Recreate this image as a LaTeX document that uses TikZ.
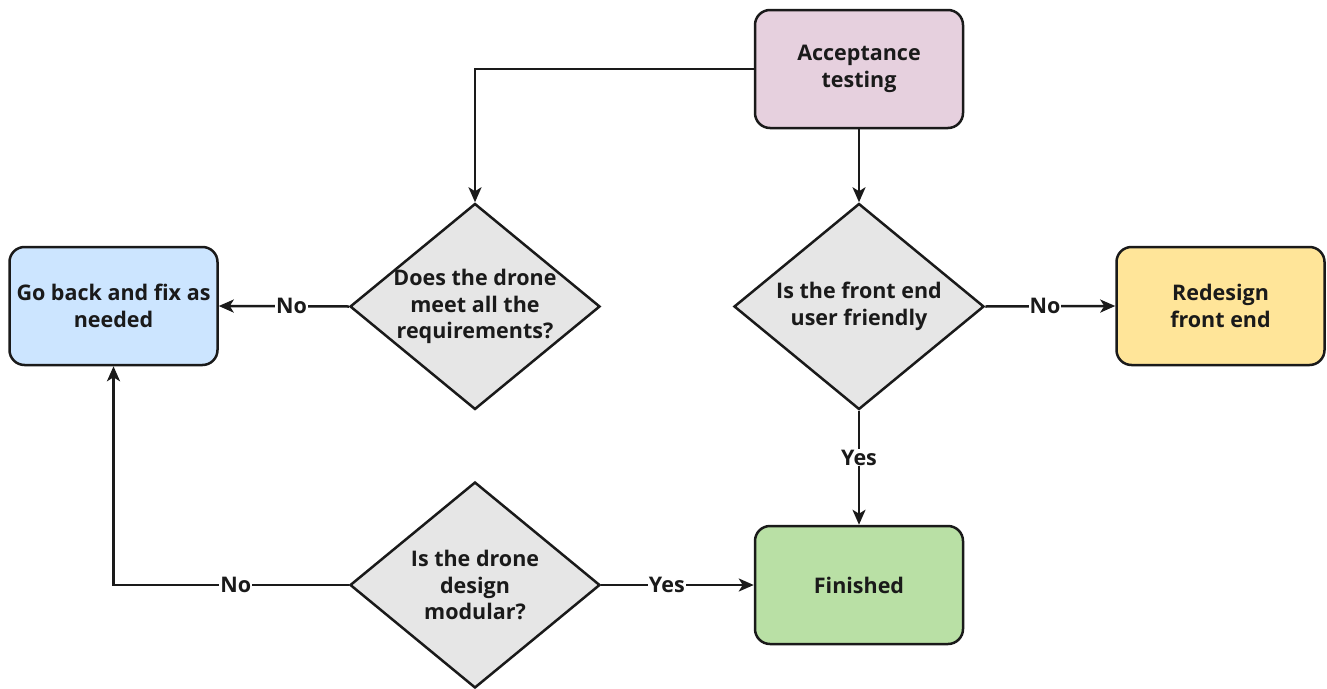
\documentclass[tikz,border=0pt]{standalone}
\usepackage{fontspec}
\setmainfont{Open Sans}
\usetikzlibrary{shapes.geometric,arrows.meta}
\definecolor{accfill}{HTML}{E6D0DE}
\definecolor{fixfill}{HTML}{CCE5FF}
\definecolor{redofill}{HTML}{FFE599}
\definecolor{donefill}{HTML}{B9E0A5}
\definecolor{askfill}{HTML}{E6E6E6}
\definecolor{ink}{HTML}{1A1A1A}
\begin{document}
\begin{tikzpicture}[x=1pt,y=-1pt,
  every node/.style={text=ink,font=\bfseries\fontsize{21.5}{26.5}\selectfont},
  stepbox/.style={draw=ink,line width=2.5pt,rounded corners=15pt,
    minimum width=208pt,minimum height=118pt,inner sep=0pt,align=center},
  decision/.style={draw=ink,line width=2.5pt,diamond,fill=askfill,
    minimum width=250pt,minimum height=206pt,inner sep=0pt},
  asktext/.style={align=center,inner sep=0pt},
  link/.style={draw=ink,line width=2.5pt,-{Stealth[length=15pt,width=13pt,inset=4pt]}},
  lbl/.style={fill=white,inner sep=1pt}
]
\useasboundingbox[fill=white] (0,0) rectangle (1327,688);

% process steps
\node[stepbox,fill=accfill]  (acc)    at (859,69)    {Acceptance\\testing};
\node[stepbox,fill=fixfill]  (goback) at (113.5,306) {Go back and fix as\\needed};
\node[stepbox,fill=redofill] (redo)   at (1220.5,306){Redesign\\front end};
\node[stepbox,fill=donefill] (done)   at (859,585)   {Finished};

% decisions (text set as a centred label so it never widens the diamond)
\node[decision,label={[asktext]center:Does the drone\\meet all the\\requirements?}] (req) at (475,306.5) {};
\node[decision,label={[asktext]center:Is the front end\\user friendly}] (ui) at (859,306.5) {};
\node[decision,label={[asktext]center:Is the drone\\design\\modular?}] (module) at (475,585) {};

% connectors
\draw[link] (acc.west) -| (req.north);
\draw[link] (acc.south) -- (ui.north);
\draw[link] (req.west) -- node[lbl,pos=0.44]{No} (goback.east);
\draw[link] (ui.east) -- node[lbl,pos=0.46]{No} (redo.west);
\draw[link] (ui.south) -- node[lbl,pos=0.41]{Yes} (done.north);
\draw[link] (module.east) -- node[lbl,pos=0.43]{Yes} (done.west);
\draw[link] (module.west) -- node[lbl,pos=0.48]{No} (module.west -| goback.south) -- (goback.south);
\end{tikzpicture}
\end{document}
